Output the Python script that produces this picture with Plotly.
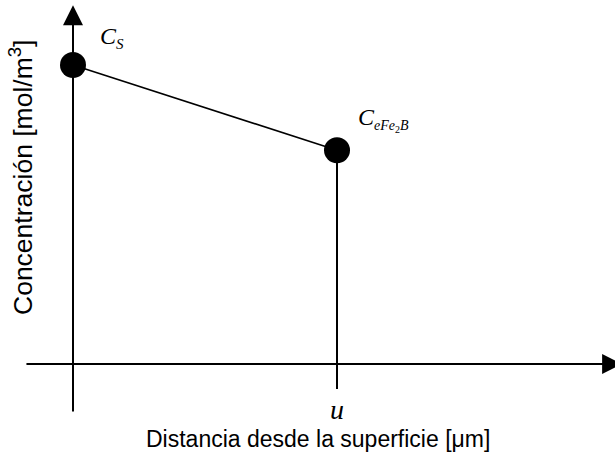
import plotly.graph_objects as go

# Schematic concentration profile across the Fe2B layer
distance = [0.0, 1.0]          # surface (0) and layer thickness u (normalised)
concentration = [1.0, 0.715]   # C_S at the surface, C_eFe2B at the interface
point_labels = ["<i>C</i><sub><span style='font-size:15px'><i>S</i></span></sub>",
                "<i>C</i><sub><span style='font-size:14px'><i>eFe</i><sub><span style='font-size:10px'>2</span></sub><i>B</i></span></sub>"]
thickness_label = "<i>u</i>"
x_title = "Distancia desde la superficie [\u03bcm]"
y_title = "Concentración [mol/m<sup>3</sup>]"

# Extents of the drawn axes (axis units)
x_axis_tail, x_axis_tip = -0.182, 2.08
y_axis_tail, y_axis_tip = -0.164, 1.20
drop_bottom = -0.084

fig = go.Figure()

# Drop line from the interface point down through the distance axis
fig.add_trace(go.Scatter(
    x=[distance[1], distance[1]], y=[concentration[1], drop_bottom],
    mode="lines", line=dict(color="black", width=2), hoverinfo="skip"))

# Profile line with the two boundary points
fig.add_trace(go.Scatter(
    x=distance, y=concentration, mode="lines+markers",
    line=dict(color="black", width=1.6),
    marker=dict(size=26, color="black")))

serif = "Liberation Serif, Times New Roman, serif"
sans = "Liberation Sans, Arial, sans-serif"

annotations = [
    # distance axis with arrow
    dict(x=x_axis_tip, y=0, ax=x_axis_tail, ay=0, axref="x", ayref="y",
         xref="x", yref="y", text="", showarrow=True, arrowhead=2,
         arrowsize=2, arrowwidth=2, arrowcolor="black"),
    # concentration axis with arrow
    dict(x=0, y=y_axis_tip, ax=0, ay=y_axis_tail, axref="x", ayref="y",
         xref="x", yref="y", text="", showarrow=True, arrowhead=2,
         arrowsize=2, arrowwidth=2, arrowcolor="black"),
    # point labels
    dict(x=distance[0], y=concentration[0], text=point_labels[0],
         showarrow=False, xanchor="left", yanchor="middle",
         xshift=25, yshift=28, font=dict(family=serif, size=24, color="black")),
    dict(x=distance[1], y=concentration[1], text=point_labels[1],
         showarrow=False, xanchor="left", yanchor="middle",
         xshift=19, yshift=31, font=dict(family=serif, size=24, color="black")),
    dict(x=distance[1], y=0, text=thickness_label, showarrow=False,
         xanchor="center", yanchor="middle", yshift=-45,
         font=dict(family=serif, size=28, color="black")),
    # axis titles
    dict(x=318 / 615, y=1 - 439 / 456, xref="paper", yref="paper",
         text=x_title, showarrow=False, xanchor="center", yanchor="middle",
         font=dict(family=sans, size=23, color="black")),
    dict(x=21 / 615, y=1 - 178 / 456, xref="paper", yref="paper",
         text=y_title, showarrow=False, xanchor="center", yanchor="middle",
         textangle=-90, font=dict(family=sans, size=26.5, color="black")),
]

fig.update_layout(
    width=615, height=456,
    margin=dict(l=0, r=0, t=0, b=0),
    paper_bgcolor="white", plot_bgcolor="white",
    showlegend=False,
    xaxis=dict(range=[-73 / 264, 542 / 264], visible=False, fixedrange=True),
    yaxis=dict(range=[-92 / 299, 364 / 299], visible=False, fixedrange=True),
    annotations=annotations,
)

fig.write_html("out.html")
